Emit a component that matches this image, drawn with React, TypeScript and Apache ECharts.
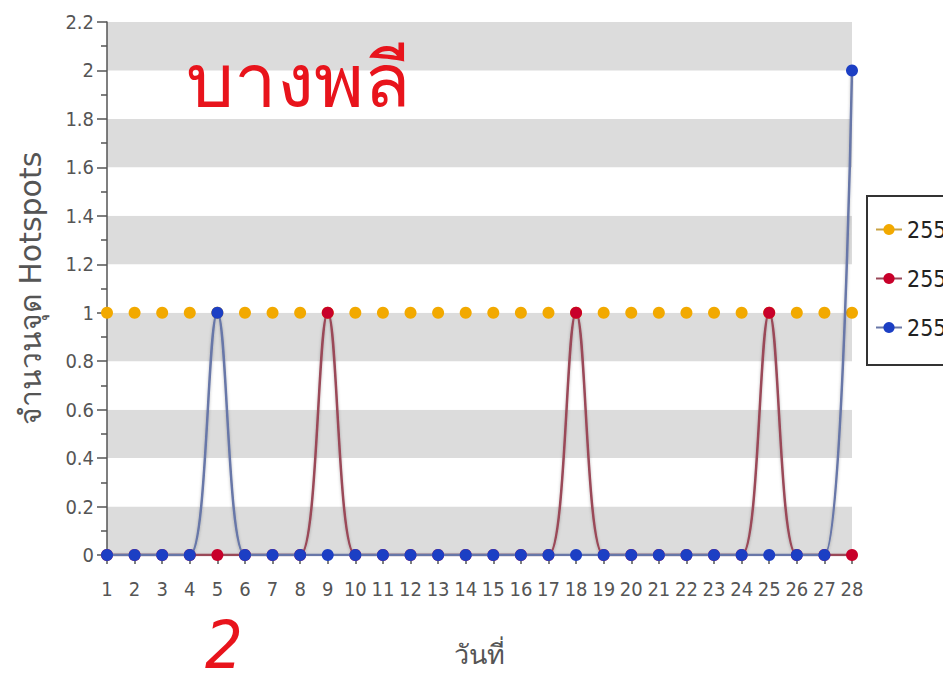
import React, { useEffect, useRef } from "react";
import * as echarts from "echarts";

const days = Array.from({ length: 28 }, (_, i) => String(i + 1));
const s2555 = [1,1,1,1,1,1,1,1,1,1,1,1,1,1,1,1,1,1,1,1,1,1,1,1,1,1,1,1];
const s2556 = [0,0,0,0,0,0,0,0,1,0,0,0,0,0,0,0,0,1,0,0,0,0,0,0,1,0,0,0];
const s2557 = [0,0,0,0,1,0,0,0,0,0,0,0,0,0,0,0,0,0,0,0,0,0,0,0,0,0,0,2];
const seriesNames = ["2555", "2556", "2557"];
const lineColors = ["#c9a243", "#9a4858", "#6877a8"];
const dotColors = ["#f2a900", "#c8002a", "#1c3fc4"];

const FONT = "'DejaVu Sans Condensed', 'DejaVu Sans', 'Noto Sans', sans-serif";
const WIDE = "'DejaVu Sans', 'Noto Sans', sans-serif";

export default function App() {
  const ref = useRef<HTMLDivElement>(null);
  useEffect(() => {
    if (!ref.current) return;
    const chart = echarts.init(ref.current, undefined, { renderer: "svg" });
    const data = [s2555, s2556, s2557];
    chart.setOption({
      animation: false,
      backgroundColor: "#fff",
      textStyle: { fontFamily: FONT },
      grid: { left: 107, right: 91, top: 22, bottom: 129 },
      legend: {
        orient: "vertical",
        left: 867,
        top: 196,
        width: 160,
        padding: [22, 40, 26, 8],
        itemGap: 26,
        itemWidth: 26,
        itemHeight: 14,
        borderColor: "#333",
        borderWidth: 2,
        backgroundColor: "#fff",
        textStyle: { fontSize: 23, color: "#222", fontFamily: FONT },
        data: seriesNames,
      },
      xAxis: {
        type: "category",
        data: days,
        boundaryGap: false,
        name: "วันที่",
        nameLocation: "middle",
        nameGap: 86,
        nameTextStyle: { fontSize: 27, color: "#555", fontFamily: FONT },
        axisLine: { show: true, lineStyle: { color: "#555", width: 1.5 } },
        axisTick: { show: true, length: 9, alignWithLabel: true, lineStyle: { color: "#555", width: 1.5 } },
        axisLabel: { fontSize: 20, color: "#555", margin: 24, interval: 0 },
        splitLine: { show: false },
      },
      yAxis: {
        type: "value",
        min: 0,
        max: 2.2,
        interval: 0.2,
        name: "จำนวนจุด Hotspots",
        nameLocation: "middle",
        nameGap: 62,
        nameTextStyle: { fontSize: 30, color: "#555", fontFamily: WIDE },
        axisLine: { show: true, lineStyle: { color: "#555", width: 1.5 } },
        axisTick: { show: true, length: 10, lineStyle: { color: "#555", width: 1.5 } },
        minorTick: { show: true, splitNumber: 2, length: 6, lineStyle: { color: "#555", width: 1.5 } },
        axisLabel: {
          fontSize: 20,
          color: "#555",
          margin: 13,
          formatter: (v: number) => String(Math.round(v * 10) / 10),
        },
        splitLine: { show: false },
        splitArea: { show: true, areaStyle: { color: ["#dcdcdc", "#ffffff"] } },
      },
      series: seriesNames.map((name, i) => ({
        name,
        type: "line",
        data: data[i],
        smooth: 0.35,
        symbol: "circle",
        symbolSize: 12,
        z: 2 + i,
        lineStyle: {
          color: lineColors[i],
          width: 2.5,
          shadowColor: "rgba(0,0,0,0.25)",
          shadowBlur: 3,
          shadowOffsetY: 1,
        },
        itemStyle: { color: dotColors[i] },
      })),
      graphic: [
        {
          type: "text",
          x: 186,
          y: 42,
          z: 100,
          style: {
            text: "บางพลี",
            fontSize: 76,
            fill: "#e8141c",
            fontFamily: FONT,
          },
        },
        {
          type: "text",
          x: 205,
          y: 612,
          z: 100,
          style: {
            text: "2",
            fontSize: 66,
            fill: "#e8141c",
            fontFamily: FONT,
            fontStyle: "italic",
          },
        },
      ],
    });
    return () => chart.dispose();
  }, []);
  return <div ref={ref} style={{ width: 943, height: 684, position: "absolute", left: 0, top: 0 }} />;
}
